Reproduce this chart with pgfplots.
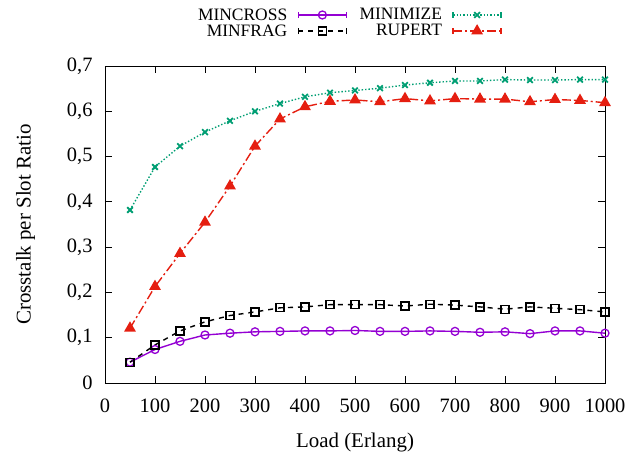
\documentclass[border=0pt]{standalone}
\usepackage{fontspec}
\setmainfont{Liberation Serif}
\usepackage{pgfplots}
\pgfplotsset{compat=1.18}
\definecolor{cpurple}{HTML}{9400D3}
\definecolor{cgreen}{HTML}{009E73}
\definecolor{cred}{HTML}{E51E10}
\pgfplotsset{
  gnulegend/.style={legend image code/.code={
    \draw[##1,mark=none] (0bp,0bp) -- (48bp,0bp);
    \draw[##1,solid,mark=none] (0bp,-3bp) -- (0bp,3bp) (48bp,-3bp) -- (48bp,3bp);
    \draw[##1,only marks] plot coordinates {(24bp,0bp)};
  }}
}
\begin{document}
\begin{tikzpicture}[x=1bp,y=1bp]
\begin{axis}[
  at={(0,0)}, anchor=south west,
  scale only axis, width=500bp, height=317bp,
  xmin=0, xmax=1000, ymin=0, ymax=0.7,
  xtick={0,100,...,1000},
  ytick={0,0.1,...,0.7},
  tick align=inside, tick pos=both,
  major tick length=7bp,
  axis line style={line width=1pt},
  every tick/.style={black, line width=0.8pt},
  /pgf/number format/assume math mode=true,
  /pgf/number format/use comma,
  /pgf/number format/1000 sep={},
  /pgf/number format/fixed,
  /pgf/number format/precision=1,
  xticklabel style={font=\fontsize{20.5}{24}\selectfont, yshift=-12bp},
  yticklabel style={font=\fontsize{20.5}{24}\selectfont, xshift=-9bp},
  xlabel={Load (Erlang)},
  ylabel={Crosstalk per Slot Ratio},
  xlabel style={font=\fontsize{21}{25}\selectfont, yshift=-14bp},
  ylabel style={font=\fontsize{21}{25}\selectfont, yshift=25bp},
  legend columns=2,
  legend plot pos=right,
  legend cell align=right,
  legend style={draw=none, fill=none, font=\fontsize{17.5}{20}\selectfont,
    at={(0.80,1.19)}, anchor=north east,
    nodes={inner sep=0.5bp},
    /tikz/every odd column/.append style={column sep=10bp},
    /tikz/every even column/.append style={column sep=12bp},
    row sep=2bp},
  gnulegend,
]
\addplot[color=cpurple, line width=1.4pt, mark=o, mark size=4bp, mark options={solid, line width=1.3pt}] coordinates {
(50,0.046)(100,0.074)(150,0.092)(200,0.106)(250,0.110)(300,0.113)(350,0.114)(400,0.115)(450,0.115)(500,0.116)(550,0.114)(600,0.114)(650,0.115)(700,0.114)(750,0.112)(800,0.113)(850,0.109)(900,0.115)(950,0.115)(1000,0.110)};
\addlegendentry{MINCROSS}
\addplot[color=cgreen, line width=1.4pt, dotted, mark=x, mark size=4bp, mark options={solid, line width=1.8pt}] coordinates {
(50,0.382)(100,0.477)(150,0.523)(200,0.554)(250,0.579)(300,0.600)(350,0.617)(400,0.632)(450,0.641)(500,0.646)(550,0.651)(600,0.658)(650,0.663)(700,0.667)(750,0.667)(800,0.670)(850,0.669)(900,0.669)(950,0.670)(1000,0.670)};
\addlegendentry{MINIMIZE}
\addplot[color=black, line width=1.4pt, dash pattern=on 5bp off 5bp, mark=square, mark size=4bp, mark options={solid, line width=1.3pt}] coordinates {
(50,0.046)(100,0.084)(150,0.115)(200,0.135)(250,0.149)(300,0.157)(350,0.166)(400,0.168)(450,0.173)(500,0.173)(550,0.173)(600,0.170)(650,0.174)(700,0.172)(750,0.168)(800,0.163)(850,0.168)(900,0.165)(950,0.162)(1000,0.157)};
\addlegendentry{MINFRAG}
\addplot[color=cred, line width=1.4pt, dash pattern=on 9bp off 3bp on 2bp off 3bp, mark=triangle*, mark size=5.5bp, mark options={solid}] coordinates {
(50,0.121)(100,0.213)(150,0.286)(200,0.355)(250,0.435)(300,0.523)(350,0.583)(400,0.610)(450,0.622)(500,0.625)(550,0.621)(600,0.628)(650,0.623)(700,0.628)(750,0.627)(800,0.627)(850,0.621)(900,0.626)(950,0.624)(1000,0.619)};
\addlegendentry{RUPERT}
\end{axis}
\pgfresetboundingbox
\path (-105bp,-71bp) rectangle (535bp,383bp);
\end{tikzpicture}
\end{document}
